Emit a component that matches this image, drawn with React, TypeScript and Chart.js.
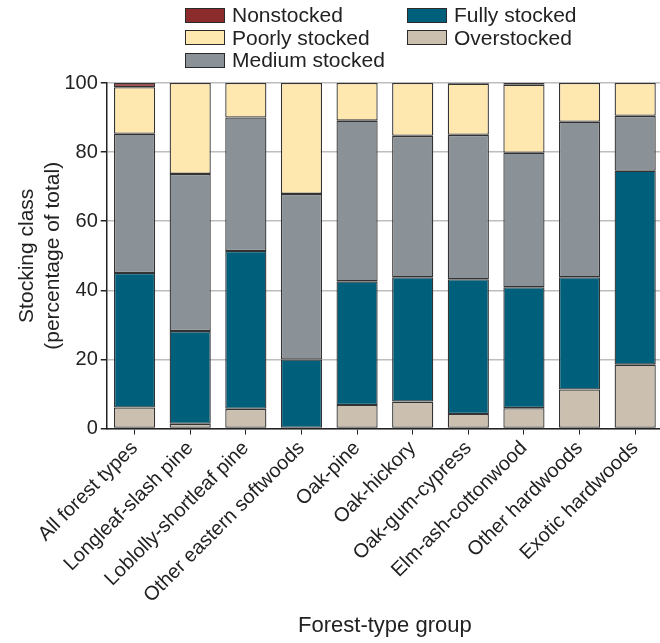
import React, { useEffect, useRef } from "react";
import { Chart, registerables } from "chart.js";

Chart.register(...registerables);

const categories = [
  "All forest types",
  "Longleaf-slash pine",
  "Loblolly-shortleaf pine",
  "Other eastern softwoods",
  "Oak-pine",
  "Oak-hickory",
  "Oak-gum-cypress",
  "Elm-ash-cottonwood",
  "Other hardwoods",
  "Exotic hardwoods",
];

const overstocked = [6.1, 1.4, 5.7, 0, 6.8, 7.8, 4.2, 5.9, 11.3, 18.5];
const fullyStocked = [38.9, 26.8, 45.7, 20.0, 35.8, 36.0, 39.0, 35.0, 32.5, 56.1];
const mediumStocked = [40.3, 45.5, 38.6, 47.9, 46.5, 40.9, 41.8, 38.9, 45.0, 15.9];
const poorlyStocked = [13.5, 26.3, 10.0, 32.1, 10.9, 15.3, 14.8, 19.7, 11.2, 9.5];
const nonstocked = [1.2, 0, 0, 0, 0, 0, 0.2, 0.5, 0, 0];

const yTicks = [0, 20, 40, 60, 80, 100];

const COLORS = {
  non: "#8B2B2B",
  poor: "#FFE8B0",
  med: "#8A9197",
  full: "#005F7A",
  over: "#CBBFAF",
};

const FONT = "'Liberation Sans', Arial, Helvetica, sans-serif";

const legendItems = [
  { label: "Nonstocked", color: COLORS.non },
  { label: "Fully stocked", color: COLORS.full },
  { label: "Poorly stocked", color: COLORS.poor },
  { label: "Overstocked", color: COLORS.over },
  { label: "Medium stocked", color: COLORS.med },
];

export default function App() {
  const ref = useRef<HTMLCanvasElement | null>(null);

  useEffect(() => {
    document.body.style.margin = "0";
    if (!ref.current) return;
    const ds = (label: string, data: number[], color: string) => ({
      label,
      data,
      backgroundColor: color,
      borderColor: "#333333",
      borderWidth: 1.3,
      borderSkipped: false as const,
      barPercentage: 0.74,
      categoryPercentage: 1,
    });
    const chart = new Chart(ref.current, {
      type: "bar",
      data: {
        labels: categories,
        datasets: [
          ds("Overstocked", overstocked, COLORS.over),
          ds("Fully stocked", fullyStocked, COLORS.full),
          ds("Medium stocked", mediumStocked, COLORS.med),
          ds("Poorly stocked", poorlyStocked, COLORS.poor),
          ds("Nonstocked", nonstocked, COLORS.non),
        ],
      },
      options: {
        responsive: false,
        animation: false,
        layout: { padding: { top: 83, left: 15, right: 2, bottom: 4 } },
        plugins: {
          legend: { display: false },
          tooltip: { enabled: false },
        },
        scales: {
          x: {
            stacked: true,
            grid: {
              offset: false,
              drawOnChartArea: false,
              drawTicks: true,
              tickLength: 6,
              tickColor: "#222",
            },
            border: { color: "#222", width: 1.5 },
            ticks: {
              maxRotation: 45,
              minRotation: 45,
              color: "#222",
              font: { family: FONT, size: 20 },
              padding: 2,
            },
            title: {
              display: true,
              text: "Forest-type group",
              color: "#222",
              font: { family: FONT, size: 22 },
              padding: { top: 3, bottom: 0 },
            },
          },
          y: {
            stacked: true,
            min: 0,
            max: 100,
            afterBuildTicks: (axis: any) => {
              axis.ticks = yTicks.map((v) => ({ value: v }));
            },
            grid: {
              color: "#bdbdbd",
              lineWidth: 1.5,
              drawTicks: true,
              tickLength: 6,
              tickColor: "#222",
            },
            border: { color: "#222", width: 1.5 },
            ticks: {
              color: "#222",
              font: { family: FONT, size: 20 },
              padding: 3,
            },
            title: {
              display: true,
              text: ["Stocking class", "(percentage of total)"],
              color: "#222",
              font: { family: FONT, size: 21, lineHeight: 1.2 },
              padding: { top: 0, bottom: -4 },
            },
          },
        },
      },
    });
    return () => chart.destroy();
  }, []);

  return (
    <div
      style={{
        position: "absolute",
        left: 0,
        top: 0,
        width: 660,
        height: 643,
        overflow: "hidden",
        background: "#fff",
      }}
    >
      <canvas ref={ref} width={665} height={643} style={{ display: "block" }} />
      <div
        style={{
          position: "absolute",
          left: 185,
          top: 4,
          display: "grid",
          gridTemplateColumns: "222px 220px",
          rowGap: 0,
          fontFamily: FONT,
          fontSize: 21,
          color: "#222",
          lineHeight: "22.5px",
        }}
      >
        {legendItems.map((it) => (
          <div key={it.label} style={{ display: "flex", alignItems: "center" }}>
            <span
              style={{
                display: "inline-block",
                width: 38,
                height: 13,
                background: it.color,
                border: "1px solid #2a2a2a",
                marginRight: 7,
              }}
            />
            <span>{it.label}</span>
          </div>
        ))}
      </div>
    </div>
  );
}
